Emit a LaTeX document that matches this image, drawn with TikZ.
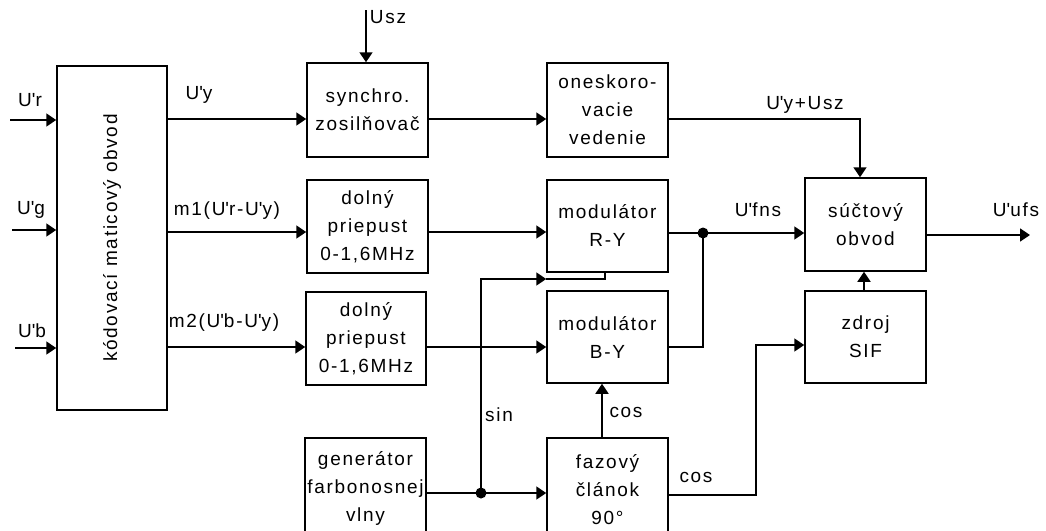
\documentclass[tikz,border=0pt]{standalone}
\usepackage{fontspec}
\setmainfont{Liberation Sans}[LetterSpace=9]
\usetikzlibrary{arrows.meta,calc}
\newcommand\fsz{\fontsize{19}{28}\selectfont}
\newcommand\ap{\textquotesingle}
\tikzset{
  box/.style={draw, line width=1.5pt, rectangle, align=center, inner sep=0pt, font=\fsz},
  wire/.style={line width=1.5pt},
  arr/.style={wire, -{Triangle[length=10pt,width=13pt]}},
  lab/.style={font=\fsz, inner sep=0pt},
  jdot/.style={circle, fill, inner sep=0pt, minimum size=11pt},
}
\begin{document}
\begin{tikzpicture}[x=1pt,y=-1pt]
\useasboundingbox (0,0) rectangle (1046,530);
\clip (0,0) rectangle (1046,530);
% blocks
\node[box, minimum width=110pt, minimum height=344pt] (mat) at (112,238) {};
\node[lab, rotate=90] (matt) at (mat.center) {kódovací maticový obvod};
\node[box, minimum width=121pt, minimum height=94pt] (sync) at (367.5,110) {synchro.\\zosilňovač};
\node[box, minimum width=121pt, minimum height=94pt] (onesk) at (607.5,110) {oneskoro-\\vacie\\vedenie};
\node[box, minimum width=121pt, minimum height=93pt] (dp1) at (367.5,226.5) {dolný\\priepust\\0-1,6MHz};
\node[box, minimum width=121pt, minimum height=92pt] (ry) at (607.5,226) {modulátor\\R-Y};
\node[box, minimum width=120pt, minimum height=93pt] (dp2) at (366,338.5) {dolný\\priepust\\0-1,6MHz};
\node[box, minimum width=121pt, minimum height=92pt] (by) at (607.5,337) {modulátor\\B-Y};
\node[box, minimum width=121pt, minimum height=100pt] (gen) at (365.5,488) {generátor\\farbonosnej\\vlny};
\node[box, minimum width=121pt, minimum height=104pt] (faz) at (607.5,490) {fazový\\článok\\90°};
\node[box, minimum width=121pt, minimum height=93pt] (sum) at (865.5,224.5) {súčtový\\obvod};
\node[box, minimum width=121pt, minimum height=92pt] (sif) at (865.5,337) {zdroj\\SIF};
% levels
\coordinate (Y1) at (0,119);
\coordinate (Y2) at (0,232);
\coordinate (Y3) at (0,347);
% inputs
\coordinate (ir) at (10,120);
\coordinate (ig) at (12,230);
\coordinate (ib) at (15,348);
\draw[arr] (ir) -- (mat.west |- ir);
\draw[arr] (ig) -- (mat.west |- ig);
\draw[arr] (ib) -- (mat.west |- ib);
% row 1
\draw[arr] (mat.east |- Y1) -- (sync.west |- Y1);
\draw[arr] (sync.east |- Y1) -- (onesk.west |- Y1);
\coordinate (c1) at (860,119);
\draw[arr] (onesk.east |- Y1) -- (c1) -- (c1 |- sum.north);
\coordinate (usz) at (366,10);
\draw[arr] (usz) -- (sync.north -| usz);
% row 2
\draw[arr] (mat.east |- Y2) -- (dp1.west |- Y2);
\draw[arr] (dp1.east |- Y2) -- (ry.west |- Y2);
\coordinate (j2) at (703,233);
\draw[arr] (ry.east |- j2) -- (sum.west |- j2);
\node[jdot] (j2d) at (j2) {};
\draw[wire] (j2) |- (by.east |- Y3);
\coordinate (out) at (1030,235);
\draw[arr] (sum.east |- out) -- (out);
% row 3
\draw[arr] (mat.east |- Y3) -- (dp2.west |- Y3);
\draw[arr] (dp2.east |- Y3) -- (by.west |- Y3);
\coordinate (sx) at (864,0);
\draw[arr] (sif.north -| sx) -- (sum.south -| sx);
% row 4
\coordinate (j1) at (481,493);
\draw[wire] (gen.east |- j1) -- (j1);
\draw[arr] (j1) -- (faz.west |- j1);
\node[jdot] (j1d) at (j1) {};
\coordinate (s1) at (481,279);
\coordinate (s2) at (605,279);
\draw[arr] (j1) -- (s1) -- (ry.west |- s1);
\draw[wire] (ry.west |- s1) -- (s2) -- (s2 |- ry.south);
\coordinate (cx) at (602,0);
\draw[arr] (faz.north -| cx) -- (by.south -| cx);
\coordinate (c2) at (756,495);
\coordinate (c3) at (756,345);
\draw[arr] (faz.east |- c2) -- (c2) -- (c3) -- (sif.west |- c3);
% labels
\node[lab] (lr) at (30,100) {U\ap r};
\node[lab] (lg) at (31,210) {U\ap g};
\node[lab] (lb) at (32,331) {U\ap b};
\node[lab] (ly) at (199,95) {U\ap y};
\node[lab] (lm1) at (227,211) {m1(U\ap r-U\ap y)};
\node[lab] (lm2) at (224,323) {m2(U\ap b-U\ap y)};
\node[lab] (lusz) at (388,17) {Usz};
\node[lab] (lys) at (805,105) {U\ap y+Usz};
\node[lab] (lfns) at (758,210) {U\ap fns};
\node[lab] (lufs) at (1016,210) {U\ap ufs};
\node[lab] (lsin) at (499,415) {sin};
\node[lab] (lcos1) at (626,412) {cos};
\node[lab] (lcos2) at (696,477) {cos};
\end{tikzpicture}
\end{document}
